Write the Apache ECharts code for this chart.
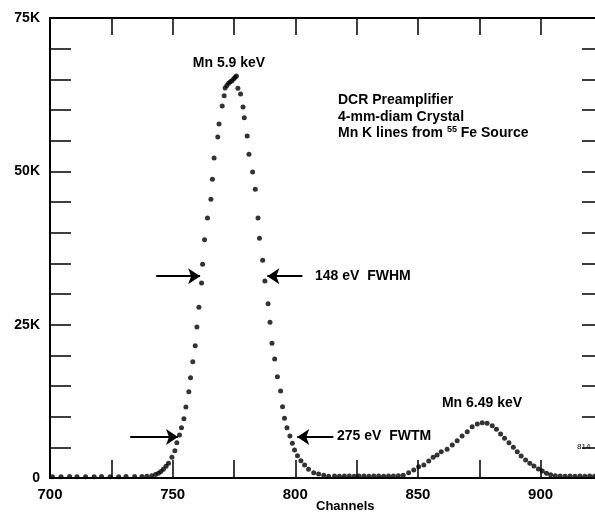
<!DOCTYPE html>
<html>
<head>
<meta charset="utf-8">
<script src="https://cdn.jsdelivr.net/npm/echarts@6/dist/echarts.min.js"></script>
<style>
  html, body { margin: 0; padding: 0; background: #fff; }
  #chart { width: 595px; height: 513px; }
</style>
</head>
<body>
<div id="chart"></div>
<script>
// channel / counts pairs
const channels = [
  701, 704.5, 708, 711, 714.5, 718, 721, 724.5, 728, 731, 734.5, 737.5,
  739.5, 741.5, 743, 744.2, 745.2, 746.2, 747.3, 748.3, 749.7, 750.9, 751.7, 752.8,
  753.6, 754.6, 755.4, 756.6, 757.3, 758.2, 759.2, 759.9, 760.7, 761.8, 762.2, 763.0,
  764.2, 765.6, 766.2, 766.9, 768.4, 768.9, 770.2, 771.0, 771.4, 772.1, 772.8, 773.5,
  774.2, 774.9, 775.5, 776.0, 776.6, 777.7, 778.7, 779.2, 780.4, 781.1, 782.6, 783.7,
  784.8, 785.4, 786.7, 787.6, 788.9, 789.7, 790.5, 791.6, 792.7, 794.0, 794.8, 795.6,
  796.6, 797.8, 798.8, 799.7, 800.9, 802.3, 803.8, 805.4, 807.5, 809.5, 811.6, 813.6,
  816, 818, 820, 822, 824, 826, 828, 830, 832, 834, 836, 838, 840, 842, 844,
  846.2, 848.3, 850.3, 852.4, 854.4, 856.2, 857.8, 859.5, 861.9, 864.0, 866.0, 868.0,
  870.1, 872.1, 874.2, 876.2, 878.2, 880.3, 882.0, 883.7, 885.3, 887.1, 888.9, 890.5,
  892.1, 893.9, 895.6, 897.3, 899.1, 900.7, 902.4, 904.1,
  906, 908, 910, 912, 914, 916, 918, 920, 922
];
const counts = [
  220, 200, 230, 210, 220, 200, 230, 210, 220, 230, 240, 260,
  300, 370, 560, 770, 1050, 1420, 1900, 2400, 3380, 4450, 5760, 7010,
  8200, 9670, 11580, 14070, 16350, 18960, 21570, 24620, 27830, 31800, 34840, 38860,
  42390, 45440, 48700, 52180, 55600, 57720, 60660, 62340, 63590, 64000, 64360, 64600,
  64780, 65100, 65340, 65550, 63540, 62610, 60490, 58750, 55760, 52780, 49890, 47070,
  42390, 39080, 35500, 32120, 28420, 25390, 21960, 19400, 16520, 14190, 11630, 9730,
  8200, 6850, 5660, 4570, 3640, 2820, 2120, 1420, 860, 650, 440, 300,
  320, 300, 330, 310, 300, 320, 330, 300, 310, 320, 300, 330, 320, 350, 450,
  860, 1300, 1840, 2120, 2770, 3380, 3750, 4290, 4680, 5380, 6080, 6850,
  7550, 8360, 8800, 9020, 8920, 8530, 7940, 7170, 6470, 5760, 5010, 4290,
  3590, 2930, 2400, 1960, 1470, 1140, 770, 540,
  350, 320, 300, 310, 300, 320, 300, 310, 300
];

// annotation arrows in data coords: [fromChannel, toChannel, counts]
const fwhmArrows = [[743.3, 761.2, 32900], [802.9, 788.6, 32900]];
const fwtmArrows = [[732.7, 752.2, 6700], [815.5, 800.8, 6700]];

const xMin = 700, xMax = 923, yMax = 75000;

const points = channels.map((c, i) => [c, counts[i]]);
const arrowData = fwhmArrows.concat(fwtmArrows).map(a => [
  { coord: [a[0], a[2]] },
  { coord: [a[1], a[2]] }
]);

const font = 'Liberation Sans, Arial, sans-serif';
let myChart = echarts.init(document.getElementById('chart'));

const option = {
  animation: false,
  textStyle: { fontFamily: font },
  grid: { left: 50, top: 18, width: 547, height: 460, outerBoundsMode: 'none', containLabel: false },
  xAxis: [
    {
      type: 'value', min: xMin, max: xMax, interval: 25,
      axisLine: { onZero: false, lineStyle: { color: '#000', width: 2 } },
      axisTick: { inside: true, length: 18, lineStyle: { color: '#000', width: 1.5 } },
      splitLine: { show: false },
      axisLabel: {
        color: '#000', fontSize: 15, fontWeight: 'bold', margin: 9,
        formatter: v => (v % 50 === 0 ? String(v) : '')
      }
    },
    {
      type: 'value', position: 'top', min: xMin, max: xMax, interval: 25,
      axisLine: { onZero: false, lineStyle: { color: '#000', width: 2 } },
      axisTick: { inside: true, length: 17, lineStyle: { color: '#000', width: 1.5 } },
      splitLine: { show: false },
      axisLabel: { show: false }
    }
  ],
  yAxis: [
    {
      type: 'value', min: 0, max: yMax, interval: 5000,
      axisLine: { show: true, onZero: false, lineStyle: { color: '#000', width: 2 } },
      axisTick: { show: true, inside: true, length: 21, lineStyle: { color: '#000', width: 1.5 } },
      splitLine: { show: false },
      axisLabel: {
        color: '#000', fontSize: 14, fontWeight: 'bold', margin: 10,
        formatter: v => (v % 25000 === 0 ? (v === 0 ? '0' : v / 1000 + 'K') : '')
      },
      name: 'Counts', nameLocation: 'middle', nameGap: 25,
      nameTextStyle: { color: '#000', fontSize: 13, fontWeight: 'bold' }
    },
    {
      type: 'value', position: 'right', min: 0, max: yMax, interval: 5000,
      axisLine: { show: true, onZero: false, lineStyle: { color: '#000', width: 2 } },
      axisTick: { show: true, inside: true, length: 15, lineStyle: { color: '#000', width: 1.5 } },
      splitLine: { show: false },
      axisLabel: { show: false }
    }
  ],
  series: [
    {
      type: 'scatter',
      data: points,
      symbol: 'circle',
      symbolSize: 5,
      itemStyle: { color: '#000' },
      markLine: {
        silent: true,
        symbol: ['none', 'arrow'],
        symbolSize: 12,
        label: { show: false },
        lineStyle: { color: '#000', width: 2, type: 'solid' },
        data: arrowData
      }
    }
  ],
  graphic: [
    { type: 'text', left: 316, top: 500, style: { text: 'Channels', font: 'bold 13px ' + font, fill: '#000' } },
    { type: 'text', x: 229, y: 63, style: { text: 'Mn 5.9 keV', font: 'bold 14px ' + font, fill: '#000', align: 'center', verticalAlign: 'middle' } },
    { type: 'text', x: 338, y: 100, style: { text: 'DCR Preamplifier', font: 'bold 14px ' + font, fill: '#000', verticalAlign: 'middle' } },
    { type: 'text', x: 338, y: 117, style: { text: '4-mm-diam Crystal', font: 'bold 14px ' + font, fill: '#000', verticalAlign: 'middle' } },
    {
      type: 'text', x: 338, y: 133,
      style: {
        text: 'Mn K lines from {s|55} Fe Source',
        font: 'bold 14px ' + font, fill: '#000', verticalAlign: 'middle',
        rich: { s: { fontSize: 9, fontWeight: 'bold', verticalAlign: 'top', padding: [0, 0, 6, 0], fill: '#000' } }
      }
    },
    { type: 'text', x: 315, y: 276, style: { text: '148 eV  FWHM', font: 'bold 14px ' + font, fill: '#000', verticalAlign: 'middle' } },
    { type: 'text', x: 337, y: 436, style: { text: '275 eV  FWTM', font: 'bold 14px ' + font, fill: '#000', verticalAlign: 'middle' } },
    { type: 'text', x: 482, y: 403, style: { text: 'Mn 6.49 keV', font: 'bold 14px ' + font, fill: '#000', align: 'center', verticalAlign: 'middle' } },
    { type: 'text', x: 577, y: 447, style: { text: '814', font: '8px ' + font, fill: '#000', verticalAlign: 'middle' } }
  ]
};
myChart.setOption(option);
</script>
</body>
</html>
